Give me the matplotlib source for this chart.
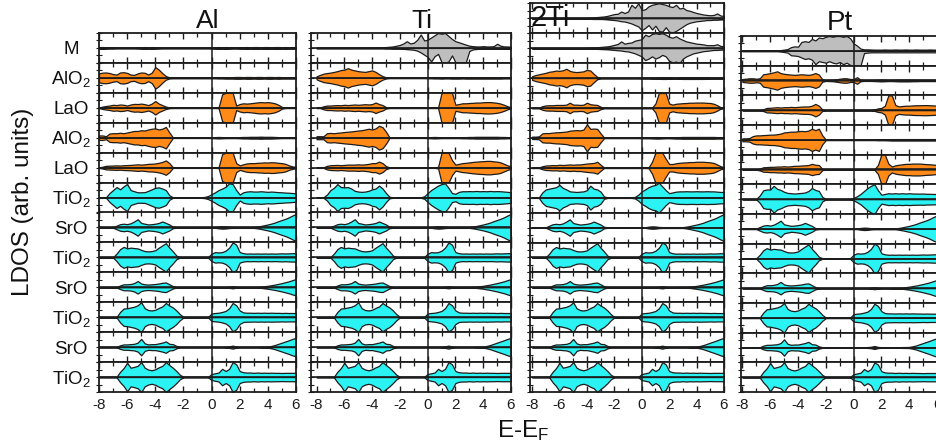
import numpy as np
import matplotlib
matplotlib.use("Agg")
import matplotlib.pyplot as plt
from matplotlib.ticker import MultipleLocator

plt.rcParams['font.family'] = ['Liberation Sans', 'DejaVu Sans']
plt.rcParams['mathtext.default'] = 'regular'

# energy grid (eV), 0.25 eV steps from -8 to 6 -> 57 points
E = np.linspace(-8.0, 6.0, 57)

# ---------------- LDOS envelopes (half-row units) ----------------
# each list: 8 values per 2 eV (-8..-6.25, -6..-4.25, -4..-2.25, -2..-0.25, 0..1.75, 2..3.75, 4..5.75) + value at 6
AL_M = [.05,.06,.05,.04,.04,.03,.03,.03, .03,.03,.03,.04,.05,.06,.05,.06, .05,.04,.03,.03,.03,.03,.03,.03,
        .03,.03,.03,.03,.03,.03,.03,.03, .04,.05,.06,.05,.06,.05,.04,.04, .05,.05,.06,.05,.06,.06,.05,.06,
        .06,.05,.06,.06,.05,.06,.05,.05, .05]
AL_ALO2_A = [.30,.35,.36,.32,.25,.22,.36,.38, .33,.22,.20,.30,.36,.34,.22,.35, .72,.55,.32,.12,.04,.03,.03,.03,
             .03,.03,.03,.03,.03,.03,.03,.03, .03,.03,.04,.04,.05,.05,.05,.06, .06,.05,.06,.06,.05,.06,.06,.05,
             .06,.06,.05,.06,.05,.05,.05,.05, .05]
AL_LAO_A = [.02,.08,.12,.15,.20,.18,.22,.20, .15,.22,.26,.25,.28,.24,.18,.28, .45,.28,.18,.08,.03,.02,.02,.02,
            .02,.02,.02,.02,.02,.02,.02,.02, .02,.02,.03,.90,1.0,1.0,1.0,.15, .25,.30,.28,.30,.33,.36,.38,.36,
            .38,.35,.30,.20,.06,.02,.02,.02, .02]
AL_ALO2_B = [.15,.15,.10,.28,.30,.30,.33,.30, .35,.40,.45,.45,.50,.48,.55,.60, .62,.55,.60,.72,.35,.02,.02,.02,
             .02,.02,.02,.02,.02,.02,.02,.02, .03,.04,.05,.04,.03,.03,.03,.03, .04,.05,.05,.06,.06,.06,.07,.06,
             .06,.06,.05,.04,.03,.03,.03,.03, .03]
AL_LAO_B = [.02,.06,.12,.13,.14,.15,.14,.16, .17,.18,.20,.22,.20,.22,.25,.26, .28,.32,.38,.48,.30,.02,.02,.02,
            .02,.02,.02,.02,.02,.02,.02,.02, .02,.02,.03,.90,1.0,1.0,1.0,.30, .15,.22,.28,.30,.30,.32,.33,.35,
            .34,.36,.35,.32,.30,.25,.15,.08, .05]
AL_TIO2_A = [.02,.02,.02,.30,.50,.70,.55,.75, .90,.50,.42,.35,.35,.36,.45,.55, .65,.68,.60,.50,.15,.02,.02,.02,
             .02,.02,.02,.02,.02,.02,.04,.10, .22,.35,.50,.60,.72,.95,.90,.50, .20,.35,.40,.42,.40,.40,.42,.40,
             .38,.40,.38,.36,.35,.33,.32,.30, .28]

SUB_SRO_1 = [.02,.02,.02,.02,.02,.12,.22,.25, .22,.28,.40,.55,.30,.25,.20,.22, .25,.30,.40,.30,.20,.05,.02,.02,
             .02,.02,.02,.02,.02,.02,.02,.02, .02,.02,.06,.08,.07,.04,.03,.03, .03,.03,.03,.03,.03,.06,.10,.15,
             .20,.26,.33,.42,.50,.58,.68,.80, .90]
SUB_TIO2_1 = [.02,.02,.02,.02,.02,.25,.55,.70, .60,.65,.62,.60,.50,.42,.40,.42, .48,.65,.80,.95,.65,.40,.12,.02,
              .02,.02,.02,.02,.02,.02,.02,.02, .25,.35,.33,.35,.45,.65,1.0,.85, .35,.28,.25,.26,.25,.26,.25,.26,
              .25,.26,.25,.26,.27,.26,.27,.28, .28]
SUB_SRO_2 = [.02,.02,.02,.02,.02,.02,.12,.20, .20,.22,.28,.42,.25,.20,.18,.20, .22,.25,.30,.32,.20,.08,.02,.02,
             .02,.02,.02,.02,.02,.02,.02,.02, .02,.02,.02,.02,.02,.04,.07,.03, .02,.02,.02,.03,.03,.03,.04,.07,
             .10,.14,.18,.23,.28,.34,.40,.48, .55]
SUB_TIO2_2 = [.02,.02,.02,.02,.02,.02,.35,.58, .60,.65,.70,.80,1.0,.60,.48,.45, .50,.62,.72,.95,.78,.65,.45,.20,
              .02,.02,.02,.02,.02,.02,.02,.02, .25,.28,.30,.35,.42,.60,.95,.80, .45,.32,.30,.30,.29,.30,.29,.30,
              .29,.30,.29,.29,.28,.29,.28,.28, .28]
SUB_SRO_3 = [.02,.02,.02,.02,.02,.02,.12,.18, .18,.20,.22,.30,.55,.25,.18,.20, .20,.25,.30,.38,.22,.20,.08,.02,
             .02,.02,.02,.02,.02,.02,.02,.02, .02,.02,.02,.02,.03,.05,.10,.04, .02,.02,.02,.02,.02,.02,.03,.03,
             .04,.08,.14,.22,.30,.38,.46,.55, .62]
SUB_TIO2_3 = [.02,.02,.02,.02,.02,.02,.35,.60, .95,.62,.68,.75,1.0,.62,.50,.45, .52,.65,.75,1.0,.80,.62,.40,.15,
              .02,.02,.02,.02,.02,.02,.02,.02, .20,.25,.30,.55,.40,.55,1.0,.85, .40,.32,.30,.30,.28,.30,.28,.29,
              .28,.29,.28,.28,.27,.28,.28,.28, .28]

TI_M_UP = [.03,.03,.03,.03,.03,.03,.03,.03, .03,.03,.03,.03,.03,.03,.03,.03, .03,.04,.04,.05,.06,.08,.10,.15,
           .20,.30,.45,.30,.35,.55,.90,.50, .55,.70,.85,1.0,.95,1.0,.80,.60, .45,.38,.30,.22,.15,.12,.10,.10,
           .12,.10,.10,.12,.28,.15,.10,.10, .08]
TI_M_DN = [.03,.03,.03,.03,.03,.03,.03,.03, .03,.03,.03,.03,.03,.03,.03,.03, .03,.03,.03,.03,.04,.04,.05,.05,
           .05,.06,.08,.10,.12,.18,.30,.45, .60,.90,.55,.40,.95,1.0,.90,.50, .95,1.0,1.0,.95,.20,.10,.07,.06,
           .06,.06,.06,.06,.06,.06,.06,.06, .06]
TI_ALO2_A = [.10,.20,.28,.32,.35,.40,.45,.52, .55,.65,.55,.50,.45,.42,.40,.45, .50,.40,.25,.12,.04,.02,.02,.02,
             .02,.02,.02,.02,.02,.02,.02,.02, .03,.03,.04,.04,.05,.04,.04,.05, .05,.05,.04,.05,.05,.05,.05,.05,
             .05,.05,.05,.05,.05,.05,.04,.04, .04]
TI_LAO_A = [.02,.02,.10,.15,.15,.17,.18,.17, .20,.18,.20,.22,.20,.22,.24,.22, .25,.35,.25,.18,.05,.02,.02,.02,
            .02,.02,.02,.02,.02,.02,.02,.02, .02,.02,.02,.02,1.0,1.0,1.0,1.0, .20,.25,.30,.30,.32,.33,.35,.35,
            .37,.38,.38,.36,.33,.28,.20,.10, .04]
TI_ALO2_B = [.10,.10,.10,.30,.32,.30,.33,.35, .38,.40,.42,.45,.48,.50,.55,.60, .55,.62,.80,.70,.40,.02,.02,.02,
             .02,.02,.02,.02,.02,.02,.02,.02, .03,.04,.05,.04,.03,.03,.03,.03, .03,.03,.04,.04,.05,.05,.06,.06,
             .06,.06,.06,.06,.06,.05,.05,.04, .04]
TI_LAO_B = [.02,.02,.02,.12,.16,.17,.18,.16, .18,.20,.20,.20,.22,.20,.22,.25, .30,.30,.40,.30,.10,.02,.02,.02,
            .02,.02,.02,.02,.02,.02,.02,.02, .02,.02,.02,.05,1.0,1.0,1.0,.50, .20,.25,.30,.32,.35,.38,.40,.42,
            .43,.45,.45,.42,.40,.35,.25,.15, .08]
TI_TIO2_A = [.02,.02,.02,.20,.50,.65,.90,.70, .68,.70,.60,.45,.40,.38,.40,.45, .55,.60,.80,.60,.30,.05,.02,.02,
             .02,.02,.02,.02,.02,.02,.02,.08, .30,.50,.65,.80,.90,.95,.65,.30, .25,.38,.42,.42,.43,.42,.44,.42,
             .43,.42,.44,.42,.43,.42,.40,.38, .35]

TI2_M1_UP = [.03,.03,.03,.03,.03,.03,.03,.03, .03,.03,.03,.03,.03,.03,.03,.03, .03,.05,.06,.08,.10,.12,.16,.22,
             .28,.30,.45,.35,.45,.90,.70,1.0, .55,.60,.80,.90,.95,1.0,.95,.90, .80,.75,.90,.65,.70,.55,.50,.42,
             .35,.30,.25,.22,.20,.22,.32,.18, .15]
TI2_M1_DN = [.03,.03,.03,.03,.03,.03,.03,.03, .03,.03,.03,.03,.03,.04,.04,.04, .04,.04,.05,.05,.05,.06,.08,.10,
             .12,.15,.20,.22,.28,.35,.45,.55, .80,.65,.45,.75,.50,.85,.90,.60, .90,.95,.85,.70,.55,.40,.30,.25,
             .20,.18,.15,.12,.12,.10,.10,.08, .08]
TI2_M2_UP = [.03,.03,.03,.03,.03,.03,.03,.03, .03,.03,.03,.03,.03,.03,.03,.03, .03,.05,.05,.06,.08,.10,.12,.16,
             .22,.28,.45,.30,.35,.38,.50,.55, .60,.90,.80,.95,1.0,.95,1.0,.90, .75,.70,.80,.65,.55,.45,.40,.35,
             .30,.28,.25,.20,.20,.20,.26,.15, .12]
TI2_M2_DN = [.03,.03,.03,.03,.03,.03,.03,.03, .03,.03,.03,.03,.03,.03,.03,.03, .03,.04,.04,.05,.06,.07,.08,.10,
             .12,.14,.16,.20,.22,.28,.35,.45, .55,.80,.70,.55,.70,.60,.45,.55, .85,.95,.90,1.0,.70,.55,.45,.35,
             .30,.25,.20,.18,.15,.12,.12,.10, .10]
TI2_ALO2_A = [.12,.20,.25,.30,.35,.42,.45,.50, .48,.52,.62,.48,.42,.40,.42,.45, .55,.50,.28,.08,.02,.02,.02,.02,
              .02,.02,.02,.02,.02,.02,.02,.02, .03,.03,.03,.04,.04,.05,.06,.06, .05,.04,.04,.05,.06,.06,.06,.06,
              .06,.06,.06,.05,.04,.04,.04,.04, .04]
TI2_LAO_A = [.02,.02,.02,.12,.17,.18,.18,.20, .20,.20,.22,.35,.22,.22,.20,.22, .35,.25,.22,.20,.08,.02,.02,.02,
             .02,.02,.02,.02,.02,.02,.02,.02, .02,.02,.02,.02,.30,1.0,1.0,1.0, .30,.22,.28,.30,.32,.33,.35,.35,
             .36,.36,.36,.34,.33,.28,.18,.05, .02]
TI2_ALO2_B = [.08,.08,.10,.30,.32,.32,.35,.37, .38,.40,.42,.48,.50,.52,.50,.55, .90,.60,.62,.60,.30,.02,.02,.02,
              .02,.02,.02,.02,.02,.02,.02,.02, .03,.03,.03,.04,.05,.05,.04,.03, .03,.04,.05,.05,.06,.06,.06,.06,
              .06,.06,.06,.06,.06,.06,.05,.05, .05]
TI2_LAO_B = [.02,.02,.02,.10,.15,.16,.18,.17, .20,.18,.20,.22,.20,.22,.22,.25, .28,.30,.32,.40,.20,.02,.02,.02,
             .02,.02,.02,.02,.02,.02,.02,.02, .02,.02,.03,.40,1.0,1.0,1.0,.60, .25,.25,.30,.33,.35,.36,.38,.38,
             .40,.40,.40,.38,.36,.32,.22,.10, .04]
TI2_TIO2_A = [.02,.02,.02,.35,.55,.60,.65,.70, .85,.65,.55,.42,.40,.38,.40,.42, .50,.80,.60,.55,.40,.08,.02,.02,
              .02,.02,.02,.02,.02,.02,.05,.20, .42,.55,.70,.80,.85,1.0,.75,.50, .30,.35,.40,.42,.42,.43,.42,.42,
              .43,.42,.42,.43,.42,.42,.40,.38, .38]

PT_M_UP = [.03,.03,.03,.03,.03,.03,.03,.03, .03,.03,.03,.05,.08,.12,.25,.30, .28,.60,.65,.60,.80,.70,.90,.85,
           .95,1.0,.95,1.0,1.0,.95,1.0,.85, .50,.35,.15,.10,.10,.09,.08,.08, .08,.09,.08,.08,.09,.08,.08,.09,
           .08,.08,.09,.08,.08,.08,.09,.08, .08]
PT_M_DN = [.03,.03,.03,.03,.03,.03,.03,.03, .03,.03,.03,.05,.08,.12,.30,.32, .35,.45,.55,.50,.60,.90,.70,.75,
           .80,.70,.80,.85,.75,.90,.80,.95, 1.0,1.0,1.0,.15,.12,.10,.10,.10, .10,.10,.10,.10,.10,.10,.10,.10,
           .10,.10,.10,.10,.10,.10,.10,.10, .10]
PT_ALO2_A = [.10,.12,.15,.15,.12,.15,.42,.45, .50,.55,.62,.50,.45,.42,.40,.38, .40,.42,.40,.38,.42,.50,.40,.08,
             .03,.04,.05,.08,.12,.15,.15,.10, .10,.22,.05,.03,.03,.03,.04,.05, .06,.05,.04,.04,.05,.06,.06,.06,
             .06,.05,.05,.04,.04,.04,.04,.04, .04]
PT_LAO_A = [.02,.02,.02,.02,.02,.02,.06,.15, .16,.18,.20,.18,.20,.20,.22,.20, .22,.24,.25,.25,.30,.42,.30,.05,
            .02,.02,.02,.02,.02,.02,.02,.02, .02,.02,.02,.02,.02,.02,.05,.12, .15,.30,1.0,1.0,.35,.25,.28,.30,
            .30,.32,.33,.33,.34,.34,.33,.32, .30]
PT_ALO2_B = [.10,.10,.12,.25,.30,.30,.32,.33, .35,.35,.38,.42,.50,.52,.55,.55, .58,.60,.58,.62,.75,.65,.75,.30,
             .02,.02,.02,.02,.02,.02,.02,.02, .02,.02,.02,.02,.02,.02,.02,.03, .03,.03,.04,.05,.05,.05,.05,.05,
             .05,.05,.05,.05,.05,.05,.05,.05, .05]
PT_LAO_B = [.02,.02,.02,.02,.02,.06,.15,.16, .18,.18,.20,.20,.22,.20,.22,.25, .25,.27,.28,.30,.38,.32,.30,.04,
            .02,.02,.02,.02,.02,.02,.02,.02, .02,.02,.02,.02,.02,.02,.02,.30, 1.0,1.0,.40,.20,.28,.32,.35,.38,
            .38,.40,.40,.40,.38,.36,.35,.33, .30]
PT_TIO2_A = [.02,.02,.02,.02,.02,.25,.60,.65, .65,.90,.70,.62,.50,.42,.40,.38, .40,.42,.45,.55,.75,.62,.55,.15,
             .02,.02,.02,.02,.02,.02,.02,.02, .08,.20,.35,.55,.75,.90,1.0,.60, .30,.35,.40,.38,.40,.38,.40,.38,
             .40,.38,.38,.37,.38,.36,.36,.35, .35]

ROW_LABELS = ['M', 'AlO$_2$', 'LaO', 'AlO$_2$', 'LaO', 'TiO$_2$',
              'SrO', 'TiO$_2$', 'SrO', 'TiO$_2$', 'SrO', 'TiO$_2$']
XTICKS = [-8, -6, -4, -2, 0, 2, 4, 6]

GREY, ORANGE, CYAN = '#BEBEBE', '#FF8A18', '#2CF3F3'

SUB_ROWS = [(SUB_SRO_1, SUB_SRO_1, CYAN), (SUB_TIO2_1, SUB_TIO2_1, CYAN),
            (SUB_SRO_2, SUB_SRO_2, CYAN), (SUB_TIO2_2, SUB_TIO2_2, CYAN),
            (SUB_SRO_3, SUB_SRO_3, CYAN), (SUB_TIO2_3, SUB_TIO2_3, CYAN)]

def film(alo2a, laoa, alo2b, laob, tio2a):
    return [(alo2a, alo2a, ORANGE), (laoa, laoa, ORANGE), (alo2b, alo2b, ORANGE),
            (laob, laob, ORANGE), (tio2a, tio2a, CYAN)]

AL_ROWS = [(AL_M, AL_M, GREY)] + film(AL_ALO2_A, AL_LAO_A, AL_ALO2_B, AL_LAO_B, AL_TIO2_A) + SUB_ROWS
TI_ROWS = [(TI_M_UP, TI_M_DN, GREY)] + film(TI_ALO2_A, TI_LAO_A, TI_ALO2_B, TI_LAO_B, TI_TIO2_A) + SUB_ROWS
TI2_ROWS = [(TI2_M1_UP, TI2_M1_DN, GREY), (TI2_M2_UP, TI2_M2_DN, GREY)] + \
    film(TI2_ALO2_A, TI2_LAO_A, TI2_ALO2_B, TI2_LAO_B, TI2_TIO2_A) + SUB_ROWS
PT_ROWS = [(PT_M_UP, PT_M_DN, GREY)] + film(PT_ALO2_A, PT_LAO_A, PT_ALO2_B, PT_LAO_B, PT_TIO2_A) + SUB_ROWS

for rows in (AL_ROWS, TI_ROWS, TI2_ROWS, PT_ROWS):
    for up, dn, _ in rows:
        assert len(up) == 57 and len(dn) == 57, (len(up), len(dn))

W, H = 936, 444
fig = plt.figure(figsize=(W / 100, H / 100), dpi=100)

def fx(px):
    return px / W

def fy(py):
    return 1 - py / H

PANELS = [
    dict(x0=99, x1=296, top=33, bottom=392, xlim=(-8, 6), rows=AL_ROWS),
    dict(x0=311, x1=511, top=33, bottom=392, xlim=(-8.4, 6), rows=TI_ROWS),
    dict(x0=530, x1=724, top=3.3, bottom=392, xlim=(-8.15, 6), rows=TI2_ROWS),
    dict(x0=741, x1=937, top=36, bottom=392, xlim=(-8.1, 6), rows=PT_ROWS),
]

LINE = '#1c1c1c'
for p in PANELS:
    n = len(p['rows'])
    h = (p['bottom'] - p['top']) / n
    for i, (up, dn, color) in enumerate(p['rows']):
        ytop = p['top'] + i * h
        ax = fig.add_axes([fx(p['x0']), fy(ytop + h), fx(p['x1']) - fx(p['x0']), h / H])
        ax.set_xlim(*p['xlim'])
        ax.set_ylim(-1, 1)
        ax.fill_between(E, 0, up, facecolor=color, edgecolor=LINE, linewidth=0.9, zorder=2)
        ax.fill_between(E, -np.asarray(dn), 0, facecolor=color, edgecolor=LINE, linewidth=0.9, zorder=2)
        ax.axhline(0, color=LINE, lw=1.2, zorder=3)
        ax.axvline(0, color=LINE, lw=1.1, zorder=3)
        for s in ax.spines.values():
            s.set_linewidth(1.3)
            s.set_color(LINE)
        ax.xaxis.set_major_locator(MultipleLocator(2))
        ax.xaxis.set_minor_locator(MultipleLocator(1))
        ax.tick_params(axis='x', which='major', direction='in', length=4, width=1, colors=LINE,
                       top=True, bottom=True, labelbottom=(i == n - 1), labelsize=11, pad=4)
        ax.tick_params(axis='x', which='minor', direction='in', length=3, width=0.9, colors=LINE,
                       top=True, bottom=True)
        ax.set_yticks([-1, -0.5, 0, 0.5, 1])
        ax.tick_params(axis='y', direction='inout', length=4, width=0.8, colors=LINE,
                       left=True, right=False, labelleft=False)
        if i == n - 1:
            ax.set_xticks(XTICKS)
            ax.set_xticklabels([str(t) for t in XTICKS])

# row labels (left of Al panel)
al = PANELS[0]
hrow = (al['bottom'] - al['top']) / 12
for i, lab in enumerate(ROW_LABELS):
    yc = al['top'] + (i + 0.5) * hrow
    fig.text(fx(71), fy(yc + 6.5), lab, ha='center', va='baseline', fontsize=13.5, color='#111')

# panel titles
fig.text(fx(208), fy(27.5), 'Al', ha='center', va='baseline', fontsize=19, color='#111')
fig.text(fx(421.7), fy(28.5), 'Ti', ha='center', va='baseline', fontsize=19, color='#111')
fig.text(fx(530), fy(26.5), '2Ti', ha='left', va='baseline', fontsize=21, color='#111', zorder=10)
fig.text(fx(840), fy(29.5), 'Pt', ha='center', va='baseline', fontsize=20, color='#111')

# axis labels
fig.text(fx(523), fy(437), 'E-E$_F$', ha='center', va='baseline', fontsize=17.5, color='#111')
fig.text(fx(23), fy(202), 'LDOS (arb. units)', ha='center', va='center', rotation=90,
         fontsize=17.5, color='#111')

fig.savefig('out.png', dpi=100)
